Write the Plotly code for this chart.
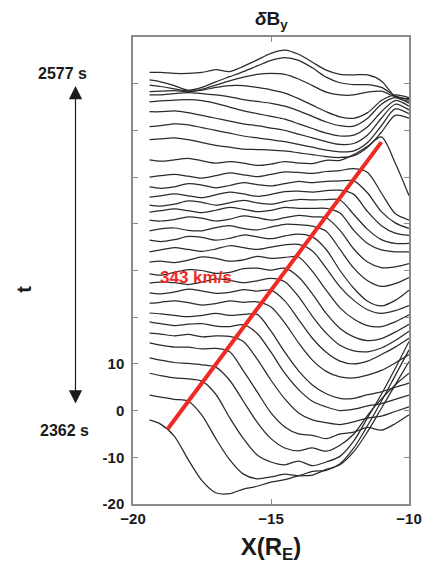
import plotly.graph_objects as go

# Sample positions along X (R_E)
x_re = [-19.4, -19.0, -18.5, -18.0, -17.5, -17.0, -16.5, -16.0, -15.5, -15.0,
        -14.5, -14.0, -13.5, -13.0, -12.5, -12.0, -11.5, -11.0, -10.5, -10.0]

# Stacked dBy profiles (with vertical offsets), earliest time at the bottom
dby_00 = [-2.0, -2.9, -5.5, -10.5, -15.0, -17.6, -17.8, -16.8, -16.2, -15.3, -14.8, -14.0, -13.8, -12.6, -11.6, -8.8, -4.5, 0.5, 5.5, 10.5]
dby_01 = [3.3, 2.9, 2.4, 2.0, -1.0, -6.0, -10.5, -13.6, -14.6, -14.2, -13.6, -13.9, -13.0, -12.8, -11.4, -8.0, -3.2, 2.0, 7.5, 13.0]
dby_02 = [8.0, 7.5, 7.0, 6.8, 6.3, 3.5, -1.5, -6.0, -9.5, -11.0, -11.6, -10.8, -11.8, -11.0, -9.8, -6.5, -1.5, 3.5, 9.0, 14.8]
dby_03 = [11.3, 10.8, 10.3, 10.1, 9.8, 9.3, 6.5, 2.0, -2.5, -6.0, -8.0, -8.6, -8.0, -8.7, -7.4, -5.0, -1.0, 2.5, 5.5, 8.0]
dby_04 = [14.5, 14.0, 13.6, 13.6, 13.2, 13.3, 12.6, 8.5, 4.0, -0.5, -3.5, -5.0, -5.3, -6.0, -5.0, -4.6, -3.6, -4.2, -2.8, -0.9]
dby_05 = [16.6, 16.4, 16.0, 16.3, 15.8, 16.0, 15.9, 14.8, 11.0, 6.5, 2.5, -0.5, -2.0, -2.6, -3.0, -2.4, -1.6, -1.2, -0.2, 0.8]
dby_06 = [19.0, 18.6, 18.2, 18.5, 18.6, 18.1, 18.0, 18.4, 16.5, 12.5, 8.0, 4.5, 2.0, 0.8, 0.0, 0.3, 1.0, 1.5, 2.4, 3.3]
dby_07 = [20.9, 20.7, 20.4, 20.1, 20.4, 20.8, 20.4, 20.6, 20.6, 17.0, 12.5, 8.5, 5.5, 3.6, 2.6, 2.6, 3.4, 4.0, 5.0, 5.9]
dby_08 = [23.0, 23.2, 23.5, 23.1, 22.6, 22.9, 23.5, 23.2, 23.3, 22.2, 18.8, 14.5, 10.8, 8.4, 7.2, 7.0, 7.6, 8.6, 10.2, 12.0]
dby_09 = [25.2, 25.0, 25.4, 26.0, 25.6, 25.1, 25.3, 25.9, 25.6, 25.8, 23.5, 19.5, 15.5, 12.5, 10.6, 10.0, 10.6, 12.0, 13.6, 15.5]
dby_10 = [27.3, 27.5, 27.4, 27.0, 27.5, 28.2, 27.9, 27.4, 27.8, 28.3, 27.6, 24.4, 20.2, 16.6, 14.0, 12.8, 12.6, 13.4, 15.0, 17.0]
dby_11 = [29.3, 29.0, 29.6, 30.2, 30.0, 29.4, 29.6, 30.4, 30.5, 30.1, 30.5, 28.6, 25.0, 20.8, 17.6, 15.8, 15.0, 15.4, 16.8, 18.5]
dby_12 = [31.8, 32.0, 31.7, 32.2, 32.9, 32.6, 32.0, 32.3, 33.0, 32.6, 32.8, 32.9, 29.8, 25.8, 22.0, 19.6, 18.2, 18.0, 19.0, 20.5]
dby_13 = [34.0, 34.4, 34.9, 34.5, 34.1, 34.6, 35.3, 34.9, 34.5, 35.0, 35.5, 35.6, 34.2, 30.5, 26.5, 23.6, 21.6, 20.8, 21.4, 22.5]
dby_14 = [36.5, 36.2, 36.6, 37.3, 37.1, 36.5, 36.9, 37.6, 37.2, 36.8, 37.4, 37.8, 37.2, 34.5, 30.0, 26.2, 23.4, 22.4, 23.6, 25.8]
dby_15 = [38.5, 38.9, 39.1, 38.6, 38.5, 39.2, 39.6, 39.0, 38.7, 39.3, 39.9, 39.8, 39.5, 38.4, 34.5, 30.5, 27.8, 26.6, 27.2, 28.5]
dby_16 = [40.8, 40.6, 40.9, 41.5, 41.2, 40.6, 41.0, 41.7, 41.3, 40.8, 41.3, 41.8, 41.5, 41.3, 38.6, 34.6, 31.8, 30.6, 30.8, 31.5]
dby_17 = [42.5, 42.8, 43.2, 42.8, 42.4, 42.9, 43.5, 43.1, 42.6, 42.9, 43.5, 43.3, 43.3, 43.3, 42.3, 38.6, 35.8, 34.4, 34.0, 34.0]
dby_18 = [44.0, 43.8, 44.2, 44.9, 44.6, 44.0, 44.5, 45.0, 44.5, 44.2, 44.8, 45.2, 45.1, 45.2, 45.1, 42.0, 38.8, 36.6, 35.8, 35.8]
dby_19 = [45.7, 46.0, 46.4, 46.0, 45.6, 46.2, 46.8, 46.4, 45.9, 46.3, 46.9, 47.0, 46.8, 47.1, 47.2, 46.3, 42.6, 39.6, 38.0, 37.5]
dby_20 = [47.9, 47.6, 47.9, 48.6, 48.3, 47.7, 48.2, 48.8, 48.4, 48.1, 48.6, 49.1, 48.8, 49.1, 49.2, 49.2, 46.6, 42.6, 40.2, 39.0]
dby_21 = [50.0, 50.3, 50.6, 50.2, 49.8, 50.3, 50.9, 50.5, 50.1, 50.6, 51.1, 51.0, 50.8, 51.2, 51.4, 51.8, 51.0, 46.6, 42.2, 40.8]
dby_22 = [53.7, 53.4, 53.7, 54.0, 53.5, 53.0, 53.3, 53.0, 52.5, 52.8, 53.3, 53.0, 52.9, 53.6, 53.6, 54.8, 56.6, 58.6, 53.0, 46.0]
dby_23 = [58.0, 58.2, 58.4, 58.0, 57.4, 56.8, 56.4, 56.0, 55.9, 55.8, 55.6, 55.2, 54.8, 54.4, 54.2, 54.6, 56.4, 59.6, 63.2, 62.6]
dby_24 = [60.8, 61.0, 61.4, 61.2, 60.6, 60.0, 59.4, 58.8, 58.4, 58.0, 57.6, 57.0, 56.4, 55.8, 55.4, 55.6, 57.4, 61.0, 64.6, 63.6]
dby_25 = [64.0, 64.0, 64.2, 63.8, 63.2, 62.6, 62.0, 61.4, 61.0, 60.5, 60.0, 59.2, 58.4, 57.6, 57.0, 57.2, 59.0, 62.6, 65.6, 64.4]
dby_26 = [66.1, 66.3, 66.5, 66.6, 66.4, 65.8, 65.0, 64.2, 63.6, 63.0, 62.4, 61.4, 60.4, 59.4, 58.8, 59.0, 60.8, 64.0, 66.4, 65.2]
dby_27 = [67.6, 67.6, 67.9, 68.1, 67.9, 67.6, 67.2, 66.6, 66.2, 65.8, 65.2, 64.2, 63.0, 61.8, 61.0, 60.9, 62.6, 65.6, 67.0, 65.8]
dby_28 = [68.3, 68.4, 68.5, 68.3, 68.6, 69.2, 69.6, 69.6, 69.2, 68.7, 68.0, 66.8, 65.4, 64.0, 62.9, 62.6, 63.8, 66.4, 67.6, 67.0]
dby_29 = [69.7, 69.4, 68.9, 68.4, 68.8, 69.7, 70.6, 71.4, 72.0, 72.2, 72.0, 71.0, 69.6, 68.2, 67.6, 67.6, 68.2, 68.4, 67.2, 66.8]
dby_30 = [70.8, 70.4, 69.6, 68.6, 69.2, 70.4, 71.5, 72.6, 73.8, 75.0, 75.6, 75.0, 73.4, 71.4, 70.2, 69.8, 69.8, 69.2, 67.4, 66.6]
dby_31 = [72.4, 72.4, 72.2, 72.2, 72.4, 73.0, 72.6, 73.7, 75.1, 76.5, 77.2, 76.3, 74.6, 72.9, 72.0, 71.9, 71.9, 70.6, 67.2, 66.2]

profiles = [dby_00, dby_01, dby_02, dby_03, dby_04, dby_05, dby_06, dby_07,
            dby_08, dby_09, dby_10, dby_11, dby_12, dby_13, dby_14, dby_15,
            dby_16, dby_17, dby_18, dby_19, dby_20, dby_21, dby_22, dby_23,
            dby_24, dby_25, dby_26, dby_27, dby_28, dby_29, dby_30, dby_31]

# Propagation front fit (start / end) and its speed label
front_x = [-18.75, -11.0]
front_y = [-4.0, 57.5]
front_label = "343 km/s"

# Time span and axis ticks
t_start_label = "2362 s"
t_end_label = "2577 s"
y_tick_vals = [-20, -10, 0, 10, 20, 30, 40, 50, 60, 70, 80]
y_tick_text = ["-20", "-10", "0", "10", "", "", "", "", "", "", ""]
x_tick_vals = [-20, -15, -10]

FONT = "Liberation Sans, Arial, sans-serif"
INK = "#1a1a1a"
RED = "#ee2a24"

fig = go.Figure()
for prof in profiles:
    fig.add_trace(go.Scatter(
        x=x_re, y=prof, mode="lines",
        line=dict(color="#2b2b2b", width=1.25, shape="spline", smoothing=0.8),
        hoverinfo="skip", showlegend=False))

fig.add_trace(go.Scatter(
    x=front_x, y=front_y, mode="lines",
    line=dict(color=RED, width=4), showlegend=False))

axis_common = dict(showline=True, linecolor="#8a8a8a", linewidth=1.5, mirror="ticks",
                   ticks="inside", ticklen=5, tickcolor="#8a8a8a", tickwidth=1,
                   showgrid=False, zeroline=False,
                   tickfont=dict(family=FONT, size=15, color=INK, weight="bold"))

# plot-area pixel helpers for the left-hand time annotation
L, T, B, W = 133, 37, 504, 288


def px_x(px):
    return (px - L) / W


def px_y(py):
    return (B - py) / (B - T)


arrow_x_px, arrow_top_px, arrow_bot_px = 73, 86, 405

fig.update_layout(
    width=434, height=571,
    margin=dict(l=L, r=434 - L - W, t=T, b=571 - B),
    paper_bgcolor="white", plot_bgcolor="white",
    xaxis=dict(range=[-20, -10], tickvals=x_tick_vals, **axis_common,
               title=dict(text="X(R<sub>E</sub>)", standoff=12,
                          font=dict(family=FONT, size=24, color=INK, weight="bold"))),
    yaxis=dict(range=[-20, 80], tickvals=y_tick_vals, ticktext=y_tick_text,
               ticklabelstandoff=4, **axis_common),
    annotations=[
        dict(text="<i>δ</i>B<sub>y</sub>", x=0.5, y=1.0, xref="paper", yref="paper",
             xanchor="center", yanchor="bottom", yshift=3, showarrow=False,
             font=dict(family=FONT, size=19, color=INK, weight="bold")),
        dict(text=front_label, x=-17.72, y=28.6, xref="x", yref="y", showarrow=False,
             xanchor="center", yanchor="middle",
             font=dict(family=FONT, size=17, color=RED, weight="bold")),
        dict(text=t_end_label, x=px_x(59), y=px_y(73), xref="paper", yref="paper",
             xanchor="center", yanchor="middle", showarrow=False,
             font=dict(family=FONT, size=16, color=INK, weight="bold")),
        dict(text=t_start_label, x=px_x(62), y=px_y(430), xref="paper", yref="paper",
             xanchor="center", yanchor="middle", showarrow=False,
             font=dict(family=FONT, size=16, color=INK, weight="bold")),
        dict(text="t", x=px_x(19), y=px_y(289), xref="paper", yref="paper",
             xanchor="center", yanchor="middle", textangle=-90, showarrow=False,
             font=dict(family=FONT, size=20, color=INK, weight="bold")),
        dict(text="", x=px_x(arrow_x_px), y=px_y(arrow_top_px),
             xref="paper", yref="paper", axref="pixel", ayref="pixel",
             ax=0, ay=arrow_bot_px - arrow_top_px,
             showarrow=True, arrowside="end+start", arrowhead=2, arrowsize=2.2,
             arrowwidth=1.2, arrowcolor=INK),
    ],
)

fig.write_html("out.html")
